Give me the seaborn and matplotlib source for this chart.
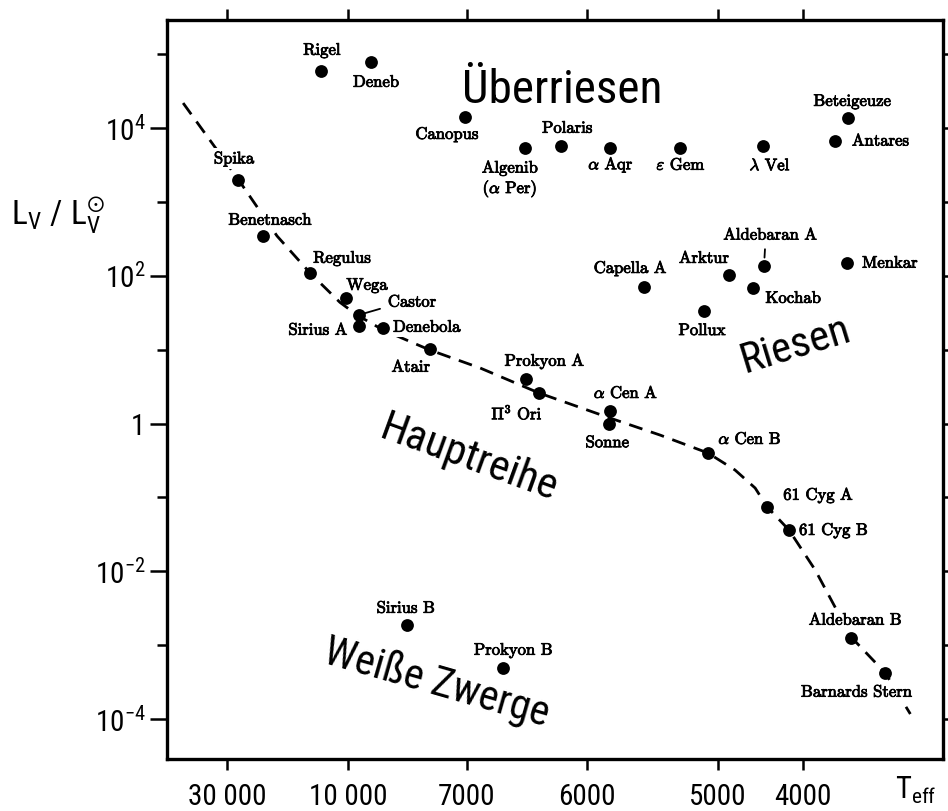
import numpy as np
import pandas as pd
import matplotlib
matplotlib.use("Agg")
import matplotlib.pyplot as plt
import matplotlib.patheffects as pe
import seaborn as sns
from matplotlib import font_manager as fm
from matplotlib.ticker import FixedLocator, FixedFormatter, NullFormatter

# ---------------- data ----------------
# x: colour-like abscissa (linear in the plot), labelled by T_eff
star_names = ["Rigel", "Deneb", "Canopus", "Algenib\n($\\alpha$ Per)", "Polaris",
              "$\\alpha$ Aqr", "$\\varepsilon$ Gem", "$\\lambda$ Vel", "Beteigeuze", "Antares",
              "Spika", "Benetnasch", "Regulus", "Wega", "Castor", "Sirius A", "Denebola",
              "Atair", "Prokyon A", "$\\Pi^3$ Ori", "$\\alpha$ Cen A", "Sonne", "$\\alpha$ Cen B",
              "61 Cyg A", "61 Cyg B", "Aldebaran B", "Barnards Stern", "Sirius B", "Prokyon B",
              "Capella A", "Arktur", "Aldebaran A", "Kochab", "Pollux", "Menkar"]
star_x = [-0.067, 0.057, 0.290, 0.439, 0.529,
          0.650, 0.824, 1.030, 1.241, 1.208,
          -0.273, -0.211, -0.094, -0.005, 0.027, 0.027, 0.087,
          0.203, 0.442, 0.474, 0.650, 0.648, 0.893,
          1.040, 1.094, 1.248, 1.333, 0.146, 0.385,
          0.734, 0.945, 1.032, 1.005, 0.883, 1.238]
star_lum = [5.9e4, 7.8e4, 1.4e4, 5.4e3, 5.7e3,
            5.4e3, 5.4e3, 5.7e3, 1.36e4, 6.7e3,
            2.0e3, 345, 109, 50, 29.5, 20.9, 19.6,
            10.2, 4.0, 2.6, 1.48, 1.0, 0.40,
            0.074, 0.036, 1.25e-3, 4.2e-4, 1.87e-3, 4.9e-4,
            70, 102, 136, 68, 33, 149]

# main sequence (dashed curve)
ms_x = [-0.409, -0.273, -0.176, -0.094, -0.020, 0.022, 0.087, 0.203, 0.328, 0.474,
        0.650, 0.774, 0.893, 0.960, 1.010, 1.040, 1.094, 1.159, 1.248, 1.333, 1.395]
ms_lum = [10**4.338, 10**3.310, 10**2.538, 10**2.037, 10**1.640, 10**1.470, 10**1.266,
          10**0.995, 10**0.751, 10**0.413, 10**0.074, 10**-0.156, 10**-0.399,
          10**-0.629, 10**-0.873, 10**-1.130, 10**-1.442, 10**-1.983, 10**-2.890,
          10**-3.377, 10**-3.932]

teff_tick_pos = [-0.300, 0.000, 0.295, 0.593, 0.918, 1.129]
teff_tick_labels = ["30 000", "10 000", "7000", "6000", "5000", "4000"]
lum_major = [1e-4, 1e-2, 1, 1e2, 1e4]
lum_major_labels = ["$\\mathregular{10^{-4}}$", "$\\mathregular{10^{-2}}$", "1",
                    "$\\mathregular{10^{2}}$", "$\\mathregular{10^{4}}$"]
lum_minor = [1e-3, 1e-1, 1e1, 1e3, 1e5]

region_names = ["Überriesen", "Riesen", "Hauptreihe", "Weiße Zwerge"]
region_x = [0.531, 1.109, 0.300, 0.221]
region_lum = [10**4.338, 10**1.063, 10**-0.480, 10**-3.513]

# ---------------- layout (label offsets in pixels, alignment) ----------------
label_layout = {
    "Rigel": (1, 21, "center"), "Deneb": (5, -20, "center"), "Canopus": (-18, -17, "center"),
    "Algenib\n($\\alpha$ Per)": (-15, -32, "center"), "Polaris": (6, 18, "center"),
    "$\\alpha$ Aqr": (1, -17, "center"), "$\\varepsilon$ Gem": (1, -17, "center"),
    "$\\lambda$ Vel": (7, -19, "center"), "Beteigeuze": (4, 17, "center"),
    "Antares": (17, 0, "left"), "Spika": (-4, 21, "center"), "Benetnasch": (7, 16, "center"),
    "Regulus": (32, 15, "center"), "Wega": (21, 13, "center"), "Castor": (29, 13, "left"),
    "Sirius A": (-41, -4, "center"), "Denebola": (10, 1, "left"), "Atair": (-19, -18, "center"),
    "Prokyon A": (18, 18, "center"), "$\\Pi^3$ Ori": (-22, -20, "center"),
    "$\\alpha$ Cen A": (16, 18, "center"), "Sonne": (-2, -19, "center"),
    "$\\alpha$ Cen B": (42, 14, "center"), "61 Cyg A": (16, 12, "left"),
    "61 Cyg B": (10, 0, "left"), "Aldebaran B": (4, 18, "center"),
    "Barnards Stern": (-29, -19, "center"), "Sirius B": (-1, 17, "center"),
    "Prokyon B": (10, 18, "center"), "Capella A": (-14, 19, "center"),
    "Arktur": (-25, 17, "center"), "Aldebaran A": (6, 31, "center"),
    "Kochab": (40, -10, "center"), "Pollux": (-2, -19, "center"), "Menkar": (15, 0, "left"),
}
region_layout = {"Überriesen": (0, 34), "Riesen": (17, 31), "Hauptreihe": (-20, 31),
                 "Weiße Zwerge": (-16, 30)}

# ---------------- fonts ----------------
avail = {f.name for f in fm.fontManager.ttflist}
SANS = "DejaVu Sans"
for cand in ["Liberation Sans Narrow", "Roboto Condensed", "Open Sans Condensed", "DejaVu Sans"]:
    if cand in avail:
        SANS = cand
        break

sns.set_theme(style="white")
plt.rcParams["font.family"] = [SANS, "DejaVu Sans"]
plt.rcParams["mathtext.fontset"] = "custom"
plt.rcParams["mathtext.rm"] = SANS
plt.rcParams["mathtext.it"] = SANS
plt.rcParams["mathtext.bf"] = SANS
plt.rcParams["mathtext.sf"] = SANS

fig = plt.figure(figsize=(9.48, 8.11), dpi=100)
ax = fig.add_axes([0.17616, 0.06412, 0.81857, 0.91122])
ax.set_yscale("log")

df_stars = pd.DataFrame({"name": star_names, "x": star_x, "lum": star_lum})
df_ms = pd.DataFrame({"x": ms_x, "lum": ms_lum})

sns.lineplot(data=df_ms, x="x", y="lum", sort=False, estimator=None, color="black",
             lw=2.0, linestyle=(0, (5, 3.2)), ax=ax, zorder=2)
sns.scatterplot(data=df_stars, x="x", y="lum", color="black", s=85, linewidth=0,
                ax=ax, legend=False, zorder=4)

ax.set_xlim(-0.449, 1.476)
ax.set_ylim(10**-4.541, 10**5.462)

# star labels (white box masks the dashed curve, as in the original)
SERIF = ["cmr10", "DejaVu Serif"]
thick = [pe.withStroke(linewidth=0.6, foreground="black")]
for name, xv, lv in zip(star_names, star_x, star_lum):
    dx, dy, ha = label_layout[name]
    kw = {}
    if name == "Castor":
        kw["arrowprops"] = dict(arrowstyle="-", color="black", lw=1.3,
                                relpos=(0.0, 0.2), shrinkA=4, shrinkB=4)
    if name == "Aldebaran A":
        kw["arrowprops"] = dict(arrowstyle="-", color="black", lw=1.3,
                                relpos=(0.45, 0.0), shrinkA=3, shrinkB=6)
    ax.annotate(name, xy=(xv, lv), xytext=(dx, dy), textcoords="offset pixels",
                ha=ha, va="center", fontsize=12, family=SERIF,
                math_fontfamily="cm", color="black", linespacing=1.1,
                path_effects=thick, zorder=3,
                bbox=dict(boxstyle="square,pad=0.15", facecolor="white", edgecolor="none"),
                **kw)

# region labels
for name, xv, lv in zip(region_names, region_x, region_lum):
    rot, size = region_layout[name]
    va = "baseline" if rot == 0 else "center"
    ax.text(xv, lv, name, rotation=rot, rotation_mode="anchor", ha="center", va=va,
            fontsize=size, family=[SANS, "DejaVu Sans"], color="black")

# axes
ax.xaxis.set_major_locator(FixedLocator(teff_tick_pos))
ax.xaxis.set_major_formatter(FixedFormatter(teff_tick_labels))
ax.xaxis.set_minor_locator(FixedLocator([]))
ax.yaxis.set_major_locator(FixedLocator(lum_major))
ax.yaxis.set_major_formatter(FixedFormatter(lum_major_labels))
ax.yaxis.set_minor_locator(FixedLocator(lum_minor))
ax.yaxis.set_minor_formatter(NullFormatter())

ax.tick_params(axis="x", which="major", direction="out", length=8, width=1.8, color="black",
               bottom=True, top=True, labelbottom=True, labeltop=False, pad=9,
               labelsize=21, labelcolor="black")
ax.tick_params(axis="y", which="major", direction="out", length=12, width=1.8, color="black",
               left=True, right=True, labelleft=True, labelright=False, pad=3.5,
               labelsize=21, labelcolor="black")
ax.tick_params(axis="y", which="minor", direction="out", length=7, width=1.8, color="black",
               left=True, right=True)
for lab in ax.get_xticklabels() + ax.get_yticklabels():
    lab.set_math_fontfamily("custom")

for sp in ax.spines.values():
    sp.set_visible(True)
    sp.set_color("black")
    sp.set_linewidth(2.4)
ax.grid(False)

ax.set_xlabel("$\\mathregular{T_{eff}}$", fontsize=22, color="black", math_fontfamily="custom")
ax.xaxis.set_label_coords(0.965, -0.022)
ax.set_ylabel("$\\mathregular{L_V\\ /\\ L_V^{\\odot}}$", fontsize=24, rotation=0,
              ha="center", va="center", color="black", math_fontfamily="custom")
ax.yaxis.set_label_coords(-0.14, 0.735)

fig.savefig("out.png", dpi=100, facecolor="white")
